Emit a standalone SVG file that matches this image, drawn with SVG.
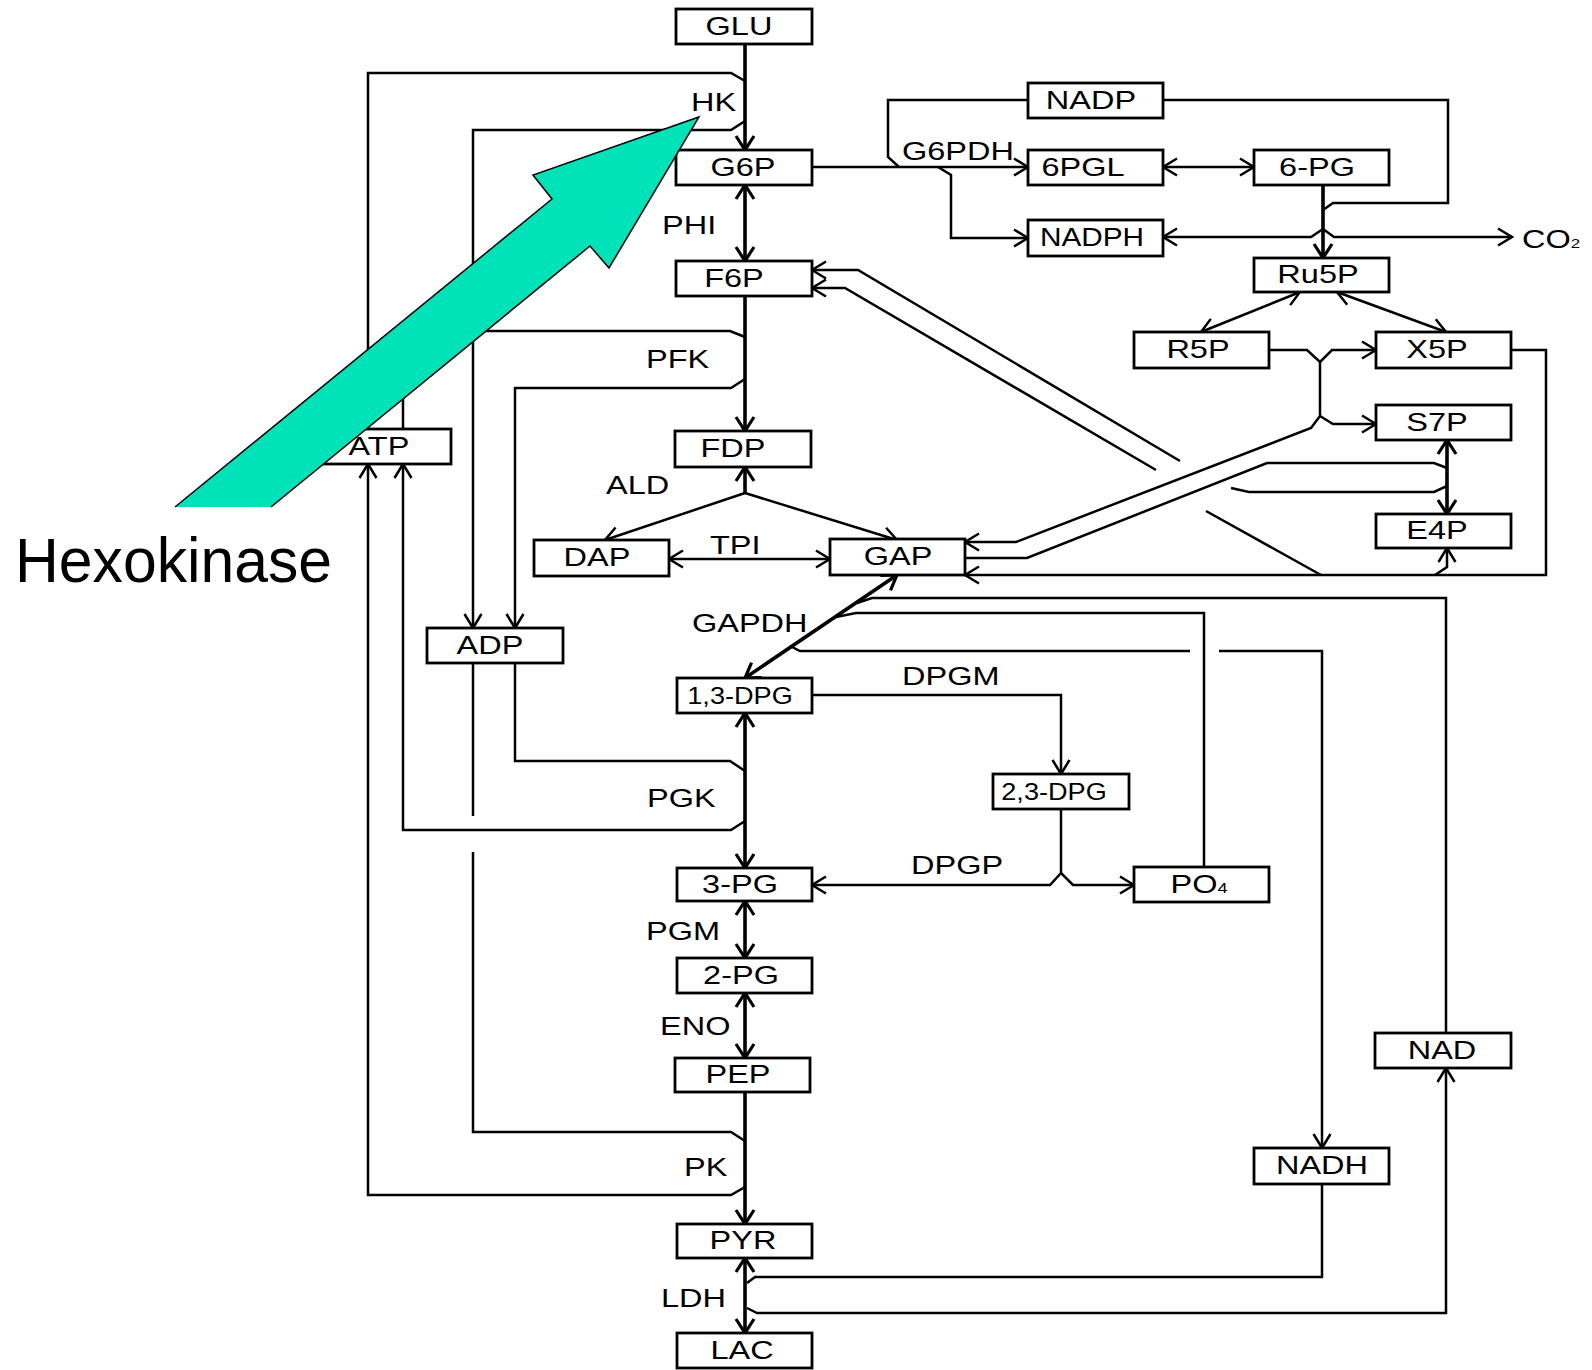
<svg xmlns="http://www.w3.org/2000/svg" width="1592" height="1370" viewBox="0 0 1592 1370">
<style>
.c{fill:none;stroke:#000;stroke-width:2.5;stroke-linejoin:miter}
.m{fill:none;stroke:#000;stroke-width:3.6}
.b{fill:#fff;stroke:#000;stroke-width:2.8}
.t{font-family:"Liberation Sans",Arial,sans-serif;font-size:25px;fill:#000}
.s{font-size:24px}
.h{font-family:"Liberation Sans",Arial,sans-serif;font-size:63px;fill:#000}
</style>
<defs>
<marker id="a" viewBox="-16 -11 18 22" refX="0" refY="0" markerWidth="18" markerHeight="22" markerUnits="userSpaceOnUse" orient="auto-start-reverse" overflow="visible"><path d="M-14,-8.5 L0,0 L-14,8.5" fill="none" stroke="#000" stroke-width="2.5"/></marker>
<marker id="A" viewBox="-16 -11 18 22" refX="0" refY="0" markerWidth="18" markerHeight="22" markerUnits="userSpaceOnUse" orient="auto-start-reverse" overflow="visible"><path d="M-14,-9 L0,0 L-14,9" fill="none" stroke="#000" stroke-width="3.2"/></marker>
</defs>
<rect width="1592" height="1370" fill="#fff"/>
<g id="connectors">
<path class="m" d="M745,44 V150" marker-end="url(#A)"/>
<path class="m" d="M745,185 V261" marker-start="url(#A)" marker-end="url(#A)"/>
<path class="m" d="M745,296 V431" marker-end="url(#A)"/>
<path class="m" d="M745,493 V467" marker-end="url(#A)"/>
<path class="c" d="M745,493 L605,540" marker-end="url(#a)"/>
<path class="c" d="M745,493 L897,540" marker-end="url(#a)"/>
<path class="c" d="M669,559 H830" marker-start="url(#a)" marker-end="url(#a)"/>
<path class="m" d="M897,575 L745,678" marker-start="url(#A)" marker-end="url(#A)"/>
<path class="m" d="M745,713 V868" marker-start="url(#A)" marker-end="url(#A)"/>
<path class="m" d="M745,901 V958" marker-start="url(#A)" marker-end="url(#A)"/>
<path class="m" d="M745,993 V1058" marker-start="url(#A)" marker-end="url(#A)"/>
<path class="m" d="M745,1092 V1224" marker-end="url(#A)"/>
<path class="m" d="M745,1258 V1333" marker-start="url(#A)" marker-end="url(#A)"/>
<path class="c" d="M368,429 V73 H731 L745,81"/>
<path class="c" d="M745,121 L731,130 H473 V628" marker-end="url(#a)"/>
<path class="c" d="M403,429 V331 H730 L745,337"/>
<path class="c" d="M745,379 L731,388 H515 V628" marker-end="url(#a)"/>
<path class="c" d="M515,663 V761 H730 L745,771"/>
<path class="c" d="M745,821 L731,830 H403 V464" marker-end="url(#a)"/>
<path class="c" d="M473,663 V816"/>
<path class="c" d="M473,852 V1132 H731 L745,1141"/>
<path class="c" d="M745,1187 L731,1195 H368 V464" marker-end="url(#a)"/>
<path class="c" d="M1322,1184 V1277 H755 L747,1283"/>
<path class="c" d="M747,1308 L757,1313 H1446 V1068" marker-end="url(#a)"/>
<path class="c" d="M1446,1033 V598 H872 L857,603"/>
<path class="c" d="M1204,867 V613 H856 L836,617"/>
<path class="c" d="M792,647 L800,651 H1190"/>
<path class="c" d="M1219,651 H1322 V1148" marker-end="url(#a)"/>
<path class="c" d="M812,695 H1061 V774" marker-end="url(#a)"/>
<path class="c" d="M1061,809 V873 L1050,885 H812" marker-end="url(#a)"/>
<path class="c" d="M1061,873 L1073,885 H1134" marker-end="url(#a)"/>
<path class="c" d="M811,167 H1028" marker-end="url(#a)"/>
<path class="c" d="M1028,100 H888 V157 L899,167"/>
<path class="c" d="M938,167 L951,175 V238 H1028" marker-end="url(#a)"/>
<path class="c" d="M1163,167 H1254" marker-start="url(#a)" marker-end="url(#a)"/>
<path class="c" d="M1163,100 H1448 V203 H1333 L1323,210"/>
<path class="m" d="M1323,185 V258" marker-end="url(#A)"/>
<path class="c" d="M1323,229 L1311,237 H1163" marker-end="url(#a)"/>
<path class="c" d="M1323,229 L1334,237 H1512" marker-end="url(#a)"/>
<path class="c" d="M1300,292 L1201,332" marker-start="url(#a)" marker-end="url(#a)"/>
<path class="c" d="M1337,292 L1446,332" marker-start="url(#a)" marker-end="url(#a)"/>
<path class="c" d="M1269,350 H1307 L1320,362 L1332,350 H1376" marker-end="url(#a)"/>
<path class="c" d="M1320,362 V416"/>
<path class="c" d="M1320,416 L1333,424 H1376" marker-end="url(#a)"/>
<path class="c" d="M1320,416 L1311,428 L1016,542 H965" marker-end="url(#a)"/>
<path class="c" d="M965,558 H1027 L1267,463 H1434 L1447,468"/>
<path class="c" d="M1180,461 L858,270 H812" marker-end="url(#a)"/>
<path class="c" d="M1231,488 L1249,492 H1434 L1447,486"/>
<path class="c" d="M1156,470 L845,288 H812" marker-end="url(#a)"/>
<path class="c" d="M1206,511 L1321,575"/>
<path class="c" d="M1511,350 H1546 V575 H965" marker-end="url(#a)"/>
<path class="c" d="M1435,575 L1447,567 V548" marker-end="url(#a)"/>
<path class="m" d="M1447,440 V514" marker-start="url(#A)" marker-end="url(#A)"/>
</g>
<g id="node-GLU"><rect class="b" x="676" y="9" width="136" height="35"/><text class="t" text-anchor="middle" transform="translate(739,35) scale(1.3,1)">GLU</text></g>
<g id="node-G6P"><rect class="b" x="676" y="150" width="136" height="35"/><text class="t" text-anchor="middle" transform="translate(743,176) scale(1.3,1)">G6P</text></g>
<g id="node-F6P"><rect class="b" x="676" y="261" width="136" height="35"/><text class="t" text-anchor="middle" transform="translate(734,287) scale(1.3,1)">F6P</text></g>
<g id="node-FDP"><rect class="b" x="675" y="431" width="136" height="36"/><text class="t" text-anchor="middle" transform="translate(733,457) scale(1.3,1)">FDP</text></g>
<g id="node-DAP"><rect class="b" x="534" y="540" width="135" height="36"/><text class="t" text-anchor="middle" transform="translate(597,566) scale(1.3,1)">DAP</text></g>
<g id="node-GAP"><rect class="b" x="830" y="539" width="135" height="36"/><text class="t" text-anchor="middle" transform="translate(898,565) scale(1.3,1)">GAP</text></g>
<g id="node-ATP"><rect class="b" x="323" y="429" width="128" height="35"/><text class="t" text-anchor="middle" transform="translate(379,455) scale(1.3,1)">ATP</text></g>
<g id="node-ADP"><rect class="b" x="427" y="628" width="136" height="35"/><text class="t" text-anchor="middle" transform="translate(490,654) scale(1.3,1)">ADP</text></g>
<g id="node-13DPG"><rect class="b" x="677" y="678" width="135" height="35"/><text class="t s" text-anchor="middle" transform="translate(740,704) scale(1.13,1)">1,3-DPG</text></g>
<g id="node-23DPG"><rect class="b" x="993" y="774" width="136" height="35"/><text class="t s" text-anchor="middle" transform="translate(1054,800) scale(1.13,1)">2,3-DPG</text></g>
<g id="node-3PG"><rect class="b" x="677" y="868" width="135" height="33"/><text class="t" text-anchor="middle" transform="translate(740,893) scale(1.3,1)">3-PG</text></g>
<g id="node-PO4"><rect class="b" x="1134" y="867" width="135" height="35"/><text class="t" text-anchor="middle" transform="translate(1199,893) scale(1.3,1)">PO<tspan font-size="14">4</tspan></text></g>
<g id="node-2PG"><rect class="b" x="677" y="958" width="135" height="35"/><text class="t" text-anchor="middle" transform="translate(741,984) scale(1.3,1)">2-PG</text></g>
<g id="node-PEP"><rect class="b" x="675" y="1058" width="135" height="34"/><text class="t" text-anchor="middle" transform="translate(738,1083) scale(1.3,1)">PEP</text></g>
<g id="node-PYR"><rect class="b" x="677" y="1224" width="135" height="34"/><text class="t" text-anchor="middle" transform="translate(743,1249) scale(1.3,1)">PYR</text></g>
<g id="node-LAC"><rect class="b" x="677" y="1333" width="135" height="35"/><text class="t" text-anchor="middle" transform="translate(742,1359) scale(1.3,1)">LAC</text></g>
<g id="node-NADH"><rect class="b" x="1254" y="1148" width="135" height="36"/><text class="t" text-anchor="middle" transform="translate(1322,1174) scale(1.3,1)">NADH</text></g>
<g id="node-NAD"><rect class="b" x="1375" y="1033" width="136" height="35"/><text class="t" text-anchor="middle" transform="translate(1442,1059) scale(1.3,1)">NAD</text></g>
<g id="node-NADP"><rect class="b" x="1028" y="83" width="135" height="35"/><text class="t" text-anchor="middle" transform="translate(1091,109) scale(1.3,1)">NADP</text></g>
<g id="node-6PGL"><rect class="b" x="1028" y="150" width="135" height="35"/><text class="t" text-anchor="middle" transform="translate(1083,176) scale(1.3,1)">6PGL</text></g>
<g id="node-6PG"><rect class="b" x="1254" y="150" width="135" height="35"/><text class="t" text-anchor="middle" transform="translate(1317,176) scale(1.3,1)">6-PG</text></g>
<g id="node-NADPH"><rect class="b" x="1028" y="220" width="135" height="36"/><text class="t" text-anchor="middle" transform="translate(1092,246) scale(1.19,1)">NADPH</text></g>
<g id="node-Ru5P"><rect class="b" x="1254" y="258" width="135" height="34"/><text class="t" text-anchor="middle" transform="translate(1318,283) scale(1.3,1)">Ru5P</text></g>
<g id="node-R5P"><rect class="b" x="1134" y="332" width="135" height="36"/><text class="t" text-anchor="middle" transform="translate(1198,358) scale(1.3,1)">R5P</text></g>
<g id="node-X5P"><rect class="b" x="1376" y="332" width="135" height="36"/><text class="t" text-anchor="middle" transform="translate(1437,358) scale(1.3,1)">X5P</text></g>
<g id="node-S7P"><rect class="b" x="1376" y="405" width="135" height="35"/><text class="t" text-anchor="middle" transform="translate(1437,431) scale(1.3,1)">S7P</text></g>
<g id="node-E4P"><rect class="b" x="1376" y="514" width="135" height="34"/><text class="t" text-anchor="middle" transform="translate(1437,539) scale(1.3,1)">E4P</text></g>
<g id="labels">
<text class="t" transform="translate(691,111) scale(1.3,1)">HK</text>
<text class="t" transform="translate(662,234) scale(1.3,1)">PHI</text>
<text class="t" transform="translate(646,368) scale(1.3,1)">PFK</text>
<text class="t" transform="translate(606,494) scale(1.3,1)">ALD</text>
<text class="t" transform="translate(710,554) scale(1.3,1)">TPI</text>
<text class="t" transform="translate(692,632) scale(1.3,1)">GAPDH</text>
<text class="t" transform="translate(902,685) scale(1.3,1)">DPGM</text>
<text class="t" transform="translate(647,807) scale(1.3,1)">PGK</text>
<text class="t" transform="translate(911,874) scale(1.3,1)">DPGP</text>
<text class="t" transform="translate(646,940) scale(1.3,1)">PGM</text>
<text class="t" transform="translate(660,1035) scale(1.3,1)">ENO</text>
<text class="t" transform="translate(684,1176) scale(1.3,1)">PK</text>
<text class="t" transform="translate(661,1307) scale(1.3,1)">LDH</text>
<text class="t" transform="translate(902,160) scale(1.3,1)">G6PDH</text>
<text class="t" font-size="23" transform="translate(1522,248) scale(1.3,1)">CO<tspan font-size="13">2</tspan></text>
</g>
<g id="hexokinase-arrow">
<polygon points="175,507 552,199 533,175 699,117 609,268 590,246 271,507" fill="#00E2B8"/>
<polyline points="175,507 552,199 533,175 699,117 609,268 590,246 271,507" fill="none" stroke="#000" stroke-width="1.5" stroke-linejoin="miter"/>
</g>
<text class="h" x="15" y="582" textLength="317" lengthAdjust="spacingAndGlyphs">Hexokinase</text>
</svg>
